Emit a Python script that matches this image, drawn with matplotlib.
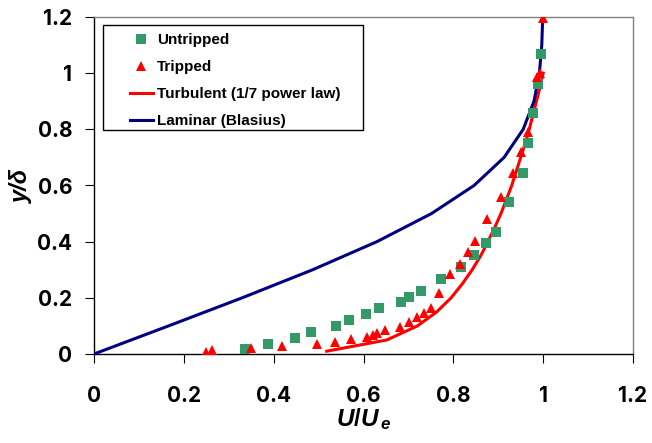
import matplotlib
matplotlib.use('Agg')
import matplotlib.pyplot as plt
from matplotlib.patches import Rectangle

# ---------------- data ----------------
untripped_u = [0.336, 0.388, 0.448, 0.483, 0.539, 0.568, 0.606, 0.635, 0.684, 0.702,
               0.728, 0.773, 0.817, 0.846, 0.873, 0.895, 0.924, 0.955, 0.967, 0.978,
               0.989, 0.996]
untripped_y = [0.018, 0.036, 0.057, 0.078, 0.100, 0.121, 0.142, 0.164, 0.185, 0.203,
               0.224, 0.268, 0.310, 0.352, 0.395, 0.434, 0.541, 0.644, 0.751, 0.858,
               0.961, 1.068]

tripped_u = [0.249, 0.263, 0.350, 0.419, 0.497, 0.537, 0.572, 0.608, 0.621, 0.630,
             0.648, 0.681, 0.701, 0.719, 0.735, 0.751, 0.768, 0.793, 0.815, 0.833,
             0.849, 0.875, 0.906, 0.933, 0.951, 0.967, 0.987, 0.994, 1.000]
tripped_y = [0.008, 0.014, 0.021, 0.028, 0.036, 0.043, 0.053, 0.060, 0.068, 0.075,
             0.085, 0.096, 0.114, 0.130, 0.146, 0.164, 0.217, 0.285, 0.320, 0.363,
             0.402, 0.480, 0.559, 0.644, 0.719, 0.790, 0.985, 1.000, 1.196]

turb_u = [0.518, 0.652, 0.720, 0.763, 0.795, 0.820, 0.842, 0.861, 0.877, 0.892,
          0.906, 0.918, 0.930, 0.940, 0.950, 0.960, 0.969, 0.977, 0.985, 0.993, 1.000]
turb_y = [0.01, 0.05, 0.10, 0.15, 0.20, 0.25, 0.30, 0.35, 0.40, 0.45,
          0.50, 0.55, 0.60, 0.65, 0.70, 0.75, 0.80, 0.85, 0.90, 0.95, 1.00]

lam_u = [0.0, 0.1659, 0.3298, 0.4868, 0.6298, 0.7513, 0.8461, 0.9130, 0.9555,
         0.9795, 0.9916, 0.9969, 0.9990]
lam_y = [0.0, 0.1, 0.2, 0.3, 0.4, 0.5, 0.6, 0.7, 0.8, 0.9, 1.0, 1.1, 1.2]

x_ticks = [0, 0.2, 0.4, 0.6, 0.8, 1.0, 1.2]
y_ticks = [0, 0.2, 0.4, 0.6, 0.8, 1.0, 1.2]
x_tick_labels = ['0', '0.2', '0.4', '0.6', '0.8', '1', '1.2']
y_tick_labels = ['0', '0.2', '0.4', '0.6', '0.8', '1', '1.2']

labels = ['Untripped', 'Tripped', 'Turbulent (1/7 power law)', 'Laminar (Blasius)']

# ---------------- style ----------------
plt.rcParams['font.family'] = ['Liberation Sans', 'DejaVu Sans']
plt.rcParams['font.weight'] = 'bold'
plt.rcParams['mathtext.fontset'] = 'custom'
plt.rcParams['mathtext.it'] = 'Liberation Sans:italic:bold'
plt.rcParams['mathtext.rm'] = 'Liberation Sans:bold'

W, H = 652, 443
fig = plt.figure(figsize=(W / 100, H / 100), dpi=100)
L, R, T, B = 94, 633, 17, 354
ax = fig.add_axes([L / W, 1 - B / H, (R - L) / W, (B - T) / H])

green = '#339966'
red = '#FF0000'
navy = '#000080'

h1, = ax.plot(untripped_u, untripped_y, linestyle='none', marker='s', markersize=6.8,
              markerfacecolor=green, markeredgewidth=0, zorder=4)
h2, = ax.plot(tripped_u, tripped_y, linestyle='none', marker='^', markersize=7.5,
              markerfacecolor=red, markeredgewidth=0, zorder=5)
h3, = ax.plot(turb_u, turb_y, color=red, linewidth=2.2, zorder=3)
h4, = ax.plot(lam_u, lam_y, color=navy, linewidth=2.2, zorder=3)

ax.set_xlim(0, 1.2)
ax.set_ylim(0, 1.2)
ax.set_xticks(x_ticks)
ax.set_xticklabels(x_tick_labels)
ax.set_yticks(y_ticks)
ax.set_yticklabels(y_tick_labels)
ax.tick_params(axis='both', direction='out', length=6.5, width=0.8,
               top=False, right=False)
ax.tick_params(axis='x', pad=16.5)
ax.tick_params(axis='y', pad=9)
for lab in ax.get_xticklabels() + ax.get_yticklabels():
    lab.set_fontfamily(['Inter', 'Liberation Sans'])
    lab.set_fontweight('bold')
    lab.set_fontsize(15)

for s in ['left', 'bottom']:
    ax.spines[s].set_color('black')
    ax.spines[s].set_linewidth(1.0)
for s in ['top', 'right']:
    ax.spines[s].set_color('#808080')
    ax.spines[s].set_linewidth(1.0)

ax.set_xlabel(r'$U/U_{\,e}$', fontsize=17.5)
ax.xaxis.set_label_coords(0.5, (B - 406) / (B - T))
ax.set_ylabel('y/δ', fontsize=17, fontstyle='italic', fontweight='bold', labelpad=3)

# legend
leg = ax.legend([h1, h2, h3, h4], labels, loc='upper left',
                bbox_to_anchor=((130 - L) / (R - L), (B - 33) / (B - T)),
                borderaxespad=0, frameon=False,
                handlelength=1.5, handletextpad=0.28, labelspacing=0.85,
                borderpad=0.0, prop={'weight': 'bold', 'size': 11})
leg.set_zorder(6)
rx0, rx1, ry0, ry1 = 103, 363, 25, 130
ax.add_patch(Rectangle(((rx0 - L) / (R - L), (B - ry1) / (B - T)),
                       (rx1 - rx0) / (R - L), (ry1 - ry0) / (B - T),
                       transform=ax.transAxes, facecolor='white', edgecolor='black',
                       linewidth=1.0, zorder=5.5))

fig.savefig('out.png', dpi=100)
